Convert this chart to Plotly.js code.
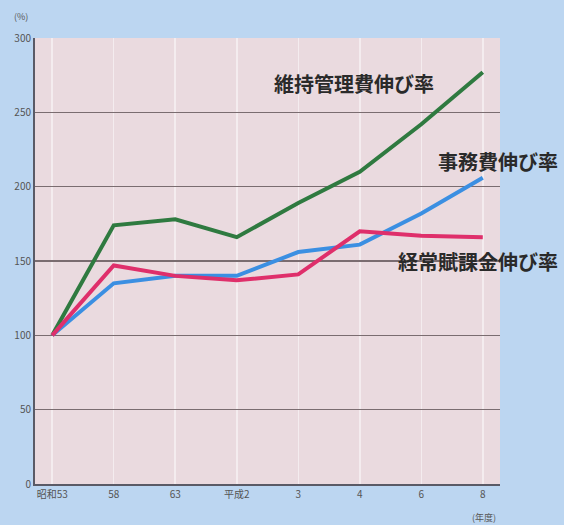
<!DOCTYPE html>
<html>
<head>
<meta charset="utf-8">
<script src="https://cdn.plot.ly/plotly-3.0.1.min.js"></script>
<style>html,body{margin:0;padding:0;background:#bcd6f1;}#chart{width:564px;height:525px;}</style>
</head>
<body>
<div id="chart"></div>
<script>
const years = ["昭和53", "58", "63", "平成2", "3", "4", "6", "8"];
const maintenance = [100, 174, 178, 166, 189, 210, 242, 277];
const office = [100, 135, 140, 140, 156, 161, 182, 206];
const levy = [100, 147, 140, 137, 141, 170, 167, 166];
const seriesNames = ["維持管理費伸び率", "事務費伸び率", "経常賦課金伸び率"];
const yTicks = [0, 50, 100, 150, 200, 250, 300];

const idx = years.map((_, i) => i);
const font = "'Noto Sans CJK JP', 'Noto Sans', sans-serif";

const traces = [
  {x: idx, y: maintenance, name: seriesNames[0], mode: "lines", line: {color: "#2f7a40", width: 4}},
  {x: idx, y: office, name: seriesNames[1], mode: "lines", line: {color: "#3b8fe2", width: 4}},
  {x: idx, y: levy, name: seriesNames[2], mode: "lines", line: {color: "#df2f6b", width: 4}}
];

const labelFont = {size: 20, color: "#2a2a2a", family: font, weight: 700};

const layout = {
  width: 564, height: 525,
  margin: {l: 35, r: 64, t: 38, b: 41},
  paper_bgcolor: "#bcd6f1",
  plot_bgcolor: "#eadadf",
  showlegend: false,
  font: {family: font, color: "#555"},
  xaxis: {
    tickmode: "array", tickvals: idx, ticktext: years,
    range: [-0.28, 7.28],
    showgrid: true, gridcolor: "#f4ecef", gridwidth: 1.5,
    showline: true, linecolor: "#5a5a66", linewidth: 2,
    ticks: "", tickfont: {size: 10, color: "#555", family: font},
    zeroline: false, fixedrange: true
  },
  yaxis: {
    tickmode: "array", tickvals: yTicks,
    range: [0, 300],
    showgrid: true, gridcolor: "#7a6c70", gridwidth: 1.5,
    showline: true, linecolor: "#5a5a66", linewidth: 2,
    ticks: "", tickfont: {size: 10, color: "#555", family: font},
    zeroline: false, fixedrange: true
  },
  annotations: [
    {xref: "paper", yref: "paper", x: 0.686, y: 0.899, text: seriesNames[0], showarrow: false,
     font: labelFont, xanchor: "center", yanchor: "middle"},
    {xref: "paper", yref: "paper", x: 1.13, y: 0.722, text: seriesNames[1], showarrow: false,
     font: labelFont, xanchor: "right", yanchor: "middle"},
    {xref: "paper", yref: "paper", x: 1.13, y: 0.498, text: seriesNames[2], showarrow: false,
     font: labelFont, xanchor: "right", yanchor: "middle"},
    {xref: "paper", yref: "paper", x: -0.03, y: 1.03, text: "(%)", showarrow: false,
     font: {size: 9, color: "#555", family: font}, xanchor: "center", yanchor: "bottom"},
    {xref: "paper", yref: "paper", x: 0.965, y: -0.055, text: "(年度)", showarrow: false,
     font: {size: 9, color: "#555", family: font}, xanchor: "center", yanchor: "top"}
  ]
};

Plotly.newPlot("chart", traces, layout, {displayModeBar: false, staticPlot: true});
</script>
</body>
</html>
